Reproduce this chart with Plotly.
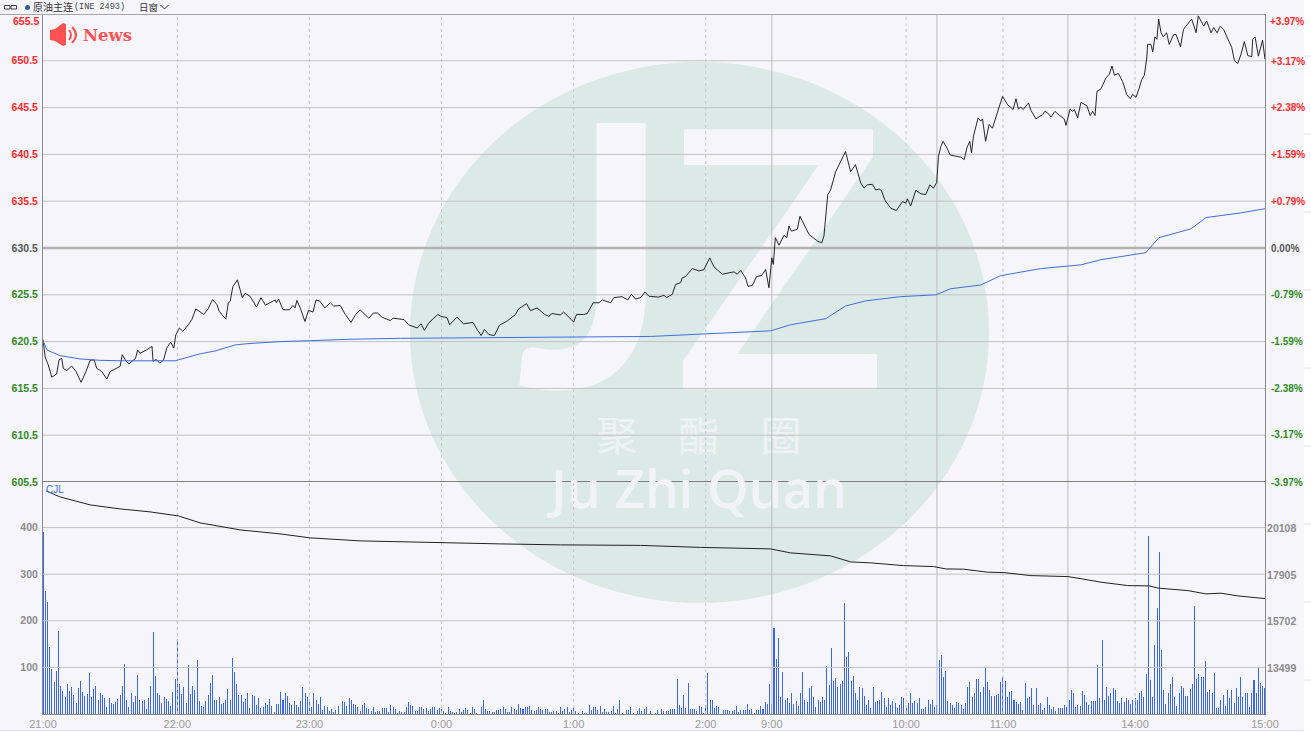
import plotly.graph_objects as go

# ---- data ----
price_ticks = [655.5, 650.5, 645.5, 640.5, 635.5, 630.5, 625.5, 620.5, 615.5, 610.5, 605.5]
pct_ticks = [3.97, 3.17, 2.38, 1.59, 0.79, 0.0, -0.79, -1.59, -2.38, -3.17, -3.97]
vol_ticks = [400, 300, 200, 100]
oi_ticks = [20108, 17905, 15702, 13499]
time_ticks = [0, 61, 121, 181, 241, 301, 331, 392, 436, 496, 555]
time_labels = ["21:00", "22:00", "23:00", "0:00", "1:00", "2:00", "9:00", "10:00", "11:00", "14:00", "15:00"]
dash_times = [61, 121, 181, 241, 301, 392, 436, 496]
solid_times = [331, 406, 465.5]

price_minute = [0,1,2.4,4,6.2,7.3,8.5,9.2,10.8,13,15,17.3,19.5,21.4,23.2,24.4,26.7,29,30.5,32.8,35,36,37.4,39,42,43,44,47,49.5,50,51.4,53,54.7,56.2,58,59.4,60.3,62,63.5,66,67.6,69.4,71.4,73,75,77,79,80,83,84.2,85,86.2,88.3,90.5,91.8,94,97,99,101,104,105.5,106,107,109,112,113.5,114.5,115.3,116.8,119,120.6,122.6,124,125.6,128,130.5,132,135,137.3,139.9,142,144,145.6,148,150,152,154,157.7,159,162,164,166,170,171.7,173.2,175.2,177.5,179.3,180.8,183.5,184.7,188,191,195.3,197,199,200.5,202.5,205,207.3,210.8,214.6,216,219.6,221.4,224.4,227.8,229.7,231.2,235,236.5,238.8,241,242.3,245.6,247.2,249.9,252.5,254,257.8,259.3,263,265.6,267.2,269.1,271.4,273.4,275.2,279.7,282,283.2,285.8,287.3,289.6,290.3,291.8,294.9,297.9,300.2,302.8,304.7,308.5,313.8,315.3,316.9,319.1,320.2,322.2,324.1,326.3,328.2,329.7,331,331.7,332.6,334.3,336.5,337.8,338.8,339.9,342.6,343.8,345.6,347.9,351.7,353.7,354.7,355.3,356.4,357.7,360,364.5,366.8,369,371.4,372.9,374.4,376.7,378.2,379.7,380.8,382.3,385,387.6,390.3,391.9,392.6,394.1,396.4,398.7,400.9,402.8,404.4,405.9,406.7,407.8,408.8,410.5,412,414.6,416.9,418.4,419.6,420.9,421.7,422.6,424.7,425.9,426.7,428.1,429.7,431.2,432.8,435.8,438.1,440.6,441.9,443,444.1,445.2,447.6,448.7,451,454,455,456.2,457.8,459.6,461.5,463.8,464.6,466.5,467.6,468.4,469.9,471.4,474.1,475.6,476.7,477.8,478.7,480.5,482.8,484.3,485.5,486.6,488.4,490.3,492.2,493.8,494.9,496.4,497.9,499,500.2,501.3,501.7,503.2,504,505,505.9,506.7,507.8,508.8,510.3,511.5,513.5,514.6,516.6,518,519.1,521.7,523.7,524.7,527.2,528.5,530.5,531.7,533.2,534.7,536.2,538.1,539.9,541.1,542.6,544.1,545.6,547.2,549,549.4,550.5,552,553.9,555]
price_value = [620.7,618.83,618,616.7,617.04,618.55,618.7,617.65,617.4,617.9,617.3,616.15,617.3,618.5,618.55,617.65,617.3,616.5,617.3,617.55,617.85,619.1,618.55,618.1,618.7,619.6,619.25,619.6,620,618.4,618.6,618.2,618.5,619.8,620.45,619.8,621.2,621.95,621.6,622.3,622.85,624,623.65,623.4,624,625,624.45,623.75,622.9,624.65,624.8,626.35,627.1,625.2,625.65,625.35,624.2,625.2,624.4,624.75,624.95,624.65,625.05,623.9,623.9,624.35,624.1,624.9,624.1,622.65,623.85,623.65,624.95,624.85,624.1,624.65,624.3,624.35,623.4,622.55,623.4,623.9,623.5,623,623.55,623.55,623.1,622.75,623,622.95,622.85,622.3,621.95,622.4,621.7,622.5,623.05,623.4,623.2,623.05,622.3,623.1,622.4,622.55,621.85,621.15,621.8,621.25,621.15,622.25,622.7,623.4,624,624.55,623.8,624.1,623.4,623.2,623.5,623.35,623.65,623.15,622.6,623.4,623.4,623.5,624.65,624.65,624.95,624.65,625.2,625.3,624.95,625.55,625.05,625.2,625.8,625.35,625.25,625.45,625.2,625.55,626.6,626.8,627.3,627.45,628.3,628.05,628.2,629.45,628.5,627.7,627.95,627.7,628.1,627.3,626.4,626.5,627.45,627.55,628.2,626.25,629.45,628.75,631.6,630.8,631.85,631.6,632.85,632.3,632.5,633.9,633,631.95,631.25,631.05,631.8,633.55,636.2,636.7,638.65,640.8,638.65,639.4,637.45,636.9,637.25,637.3,636.7,636.8,636.65,635.65,634.75,634.5,635.45,635.3,635.75,635,636.65,636.3,636.2,637.25,636.9,637.5,640.3,641.35,641.9,641.2,640.45,640.3,640.2,639.95,641.2,641.9,640.65,642.45,644.4,644.05,644.3,641.9,643.7,643.3,644.4,646.7,645.8,645.3,646.45,645.35,645.55,645.3,646,645.2,644.3,644.75,645.1,644.95,644.5,645.1,644.7,644.3,643.6,645.35,645.1,645.3,644.4,646.05,645.7,644.65,645.1,644.65,647.25,647.5,648.7,649.05,649.95,648.95,649.15,648.3,646.9,646.45,646.9,646.6,647.6,648.5,648.95,650.8,652.25,652.25,651.45,653.05,652.8,654.95,653.5,653.05,653.5,652.25,653.3,653.3,652,653.85,654.2,654.95,653.5,655.3,654.2,654.75,653.5,654.05,653.5,654.2,653.85,652.85,651.9,650.55,650.2,651.2,652.55,651.05,650.95,652.8,653.05,651,652.7,650.65]

avg_minute = [0,1.8,7.7,16.8,25.9,35,60,64.5,71.4,78.2,87.3,94,107.7,121.4,139.5,162.3,185,216.8,253.2,276,298.6,321.4,330.5,339.5,355.5,364.5,373.6,389.5,405.5,412.3,425.9,435,453.2,471.4,480.5,500.9,506.8,521.4,528.2,544,555]
avg_value = [620.6,619.6,619,618.65,618.5,618.45,618.45,618.75,619.2,619.5,620.15,620.3,620.5,620.6,620.75,620.85,620.9,620.95,621,621.05,621.3,621.6,621.65,622.3,622.95,624.3,624.85,625.3,625.5,626.15,626.55,627.55,628.3,628.7,629.25,630,631.6,632.55,633.75,634.25,634.7]

oi_minute = [1.4,7.7,21.4,35,48.6,61.4,71.4,89.5,107.7,121.4,144,180.5,207.7,235,271.4,298.6,330.5,339.5,357.7,366.8,375.9,390.9,404.5,410,418.2,429.1,436.4,448.6,465.5,472.7,480.5,492.7,502.3,506.8,520,528.2,535,542.7,555]
oi_value = [21886,21602,21224,21035,20893,20704,20373,20042,19853,19664,19522,19428,19380,19333,19309,19215,19144,18955,18813,18529,18482,18354,18307,18198,18184,18043,18024,17882,17834,17712,17570,17409,17395,17286,17173,17017,17050,16922,16795]

volume = [390,265,240,143,97,68,92,178,60,50,37,64,50,57,41,24,55,70,48,39,43,88,37,54,60,29,46,41,34,16,34,23,21,26,32,41,60,108,31,14,46,25,39,83,30,28,30,10,34,60,175,81,46,40,23,37,32,28,17,48,76,161,64,43,57,24,106,43,61,51,116,28,17,14,28,41,66,83,31,30,36,21,23,30,54,30,121,90,64,41,41,26,32,44,12,41,39,19,34,12,14,24,19,32,17,4,21,21,48,30,44,39,24,19,28,19,14,28,57,46,36,28,14,46,31,21,37,9,17,14,6,10,4,9,17,0,28,26,17,34,30,21,19,14,7,19,23,12,11,7,14,4,6,6,12,12,12,5,19,14,11,3,6,5,5,14,26,19,17,6,6,14,14,11,12,6,11,14,14,9,12,10,
          6,3,14,6,4,3,4,11,4,8,12,8,3,15,11,3,0,15,30,11,6,6,4,4,9,9,11,16,11,4,5,16,11,9,21,13,11,14,15,17,9,6,8,14,11,8,10,10,4,4,6,6,3,14,6,11,14,4,8,14,6,3,0,6,3,3,19,9,15,15,8,17,4,11,4,4,6,17,3,11,30,3,1,9,8,14,3,1,6,12,6,10,14,1,6,0,3,8,0,10,6,6,6,10,10,11,75,19,12,40,12,66,11,10,11,6,17,14,3,19,87,30,30,12,17,16,0,8,8,8,6,6,9,17,4,8,9,8,21,9,11,3,8,8,17,11,26,21,64,21,184,117,164,36,90,30,34,24,46,21,28,17,46,91,30,26,56,61,36,14,30,26,37,31,103,62,142,71,77,58,64,71,239,122,134,71,81,44,30,59,56,39,19,31,
          12,57,26,28,30,48,35,16,35,19,28,23,12,19,37,34,12,24,44,23,28,23,35,10,10,14,31,21,31,16,19,116,126,79,92,28,23,19,12,26,24,19,10,23,59,68,37,46,75,76,48,59,98,68,51,39,39,41,43,68,79,70,37,48,49,30,25,21,26,9,66,34,37,55,19,55,19,23,9,12,37,19,10,14,7,12,12,12,19,16,31,51,44,16,19,17,49,41,26,19,28,28,28,106,34,159,30,57,39,44,55,51,28,23,35,26,34,30,21,31,34,30,46,50,37,86,382,73,36,148,228,348,137,51,21,44,64,79,37,17,46,61,55,39,39,53,64,231,76,86,79,80,114,48,51,44,89,12,12,31,41,17,51,35,51,23,55,37,79,37,46,46,16,44,73,46,101,66,61,55,166]

# ---- styling ----
BG = "#F5F5FB"; GRID = "#C2C2C6"; RED = "#FF2A2A"; GREEN = "#2E8B22"; DARK = "#555555"; GREYTXT = "#8C8C8C"
L, R, T, B, W, H = 43, 46, 14, 18, 1311, 732
PW, PH = W - L - R, H - T - B
SPLIT = 232 / PH
VOL_RANGE = [0, 497.8]
OI_RANGE = [11339, 22306]
P_RANGE = [605.5, 655.5]
X_RANGE = [0, 555]

def px(x): return (x - L) / PW
def py(y): return (H - B - y) / PH
def dx(x): return (x - L) / PW * X_RANGE[1]
def dy(y): return P_RANGE[1] - (y - T) / (482 - T) * (P_RANGE[1] - P_RANGE[0])
def dy2(y): return (H - B - y) / 232 * VOL_RANGE[1]

def col(v):
    return RED if v > 630.5 else (DARK if v == 630.5 else GREEN)

def span(t, c):
    return f'<span style="color:{c}">{t}</span>'

def pct_text(v):
    return "0.00%" if v == 0 else f"{v:+.2f}%"

def lines_h(vals):
    xs, ys = [], []
    for v in vals:
        xs += [X_RANGE[0], X_RANGE[1], None]; ys += [v, v, None]
    return xs, ys

def lines_v(vals, rng):
    xs, ys = [], []
    for v in vals:
        xs += [v, v, None]; ys += [rng[0], rng[1], None]
    return xs, ys

fig = go.Figure()

# watermark text sits under grid and lines
def wm(x, yval, text, size, family, color, axis="y", weight="normal"):
    fig.add_trace(go.Scatter(x=[dx(x)], y=[yval], mode="text", text=[text], textposition="middle center",
                             textfont=dict(size=size, family=family, color=color, weight=weight),
                             cliponaxis=False, hoverinfo="skip", showlegend=False, yaxis=axis, xaxis="x"))

wm(594, dy(296), "J", 366, "Lato", BG, "y", "bold")
wm(779, dy(298), "Z", 366, "Roboto", BG, "y", 500)
wm(699, dy(441), "聚　酯　圈", 41, "Noto Sans CJK SC", "#EFF2F5")
wm(699, dy2(495), "Ju Zhi Quan", 53, "Open Sans", "#F1F3F6", "y2", 600)

def grid(xs, ys, axis, color=GRID, width=1, dash="solid"):
    fig.add_trace(go.Scatter(x=xs, y=ys, mode="lines", yaxis=axis, line=dict(color=color, width=width, dash=dash),
                             hoverinfo="skip", showlegend=False))

grid(*lines_h([v for v in price_ticks if v not in (630.5, 605.5, 655.5)]), "y")
grid(*lines_v(dash_times, P_RANGE), "y", "#C6C6C6", 1, "3px,3px")
grid(*lines_v(solid_times, P_RANGE), "y", "#BDBDBD", 1)
grid(*lines_h([630.5]), "y", "#B2B2B2", 2.5)
grid(*lines_h([605.5]), "y", "#7F7F7F", 2)

grid(*lines_h(vol_ticks), "y2")
grid(*lines_v(dash_times, VOL_RANGE), "y2", "#C6C6C6", 1, "3px,3px")
grid(*lines_v(solid_times, VOL_RANGE), "y2", "#BDBDBD", 1)

fig.add_trace(go.Scatter(x=price_minute, y=price_value, mode="lines", yaxis="y", name="price",
                         line=dict(color="#111111", width=0.9), showlegend=False))
fig.add_trace(go.Scatter(x=avg_minute, y=avg_value, mode="lines", yaxis="y", name="average",
                         line=dict(color="#3F6FE0", width=1), showlegend=False))
fig.add_trace(go.Bar(x=list(range(len(volume))), y=volume, yaxis="y2", name="volume", width=0.46,
                     marker=dict(color="rgba(56,100,232,0.99)", line=dict(width=0)), showlegend=False))
fig.add_trace(go.Scatter(x=oi_minute, y=oi_value, mode="lines", yaxis="y3", name="open interest",
                         line=dict(color="#222222", width=1), showlegend=False))
# keeps the percent axis alive
fig.add_trace(go.Scatter(x=[None], y=[None], yaxis="y4", mode="lines", hoverinfo="skip", showlegend=False))

tick_font = dict(family="Liberation Sans", size=10.5, weight="bold")
pct_font = dict(family="Liberation Sans", size=10, weight="bold")
axis_line = dict(showline=True, linecolor="#8A8A8A", linewidth=1, showgrid=False, zeroline=False, ticks="", fixedrange=True)

# ---- shapes ----
S = []
S.append(dict(type="rect", xref="paper", yref="paper", x0=px(0), x1=px(1304), y0=py(730), y1=py(0),
              fillcolor=BG, line=dict(width=0), layer="below"))
S.append(dict(type="circle", xref="paper", yref="paper", x0=px(410), x1=px(989), y0=py(603), y1=py(62),
              fillcolor="#DBEAE6", line=dict(width=0), layer="below"))
S.append(dict(type="line", xref="paper", yref="paper", x0=px(0), x1=px(1265), y0=py(14.5), y1=py(14.5),
              line=dict(color="#A6A6AA", width=1), layer="above"))
S.append(dict(type="line", xref="paper", yref="paper", x0=px(0), x1=px(1304), y0=py(730.5), y1=py(730.5),
              line=dict(color="#E4E4EA", width=1), layer="below"))
for y in range(56, 700, 78):
    S.append(dict(type="line", xref="paper", yref="paper", x0=px(1304), x1=px(1311), y0=py(y), y1=py(y),
                  line=dict(color="#E2E2E6", width=1), layer="below"))

def path(points, close=True):
    p = "M" + " L".join(f"{px(a)},{py(b)}" for a, b in points)
    return p + (" Z" if close else "")

RN = "#FF5252"
S.append(dict(type="path", xref="paper", yref="paper", fillcolor=RN, line=dict(width=0),
              path=path([(50, 30), (55, 29), (63, 23), (66, 24), (66, 45), (63, 46), (55, 41), (50, 40)])))
S.append(dict(type="path", xref="paper", yref="paper", line=dict(color=RN, width=2),
              path=f"M{px(69)},{py(30)} Q{px(73)},{py(35)} {px(69)},{py(40)}"))
S.append(dict(type="path", xref="paper", yref="paper", line=dict(color=RN, width=2),
              path=f"M{px(72)},{py(27)} Q{px(80)},{py(35)} {px(72)},{py(43)}"))
# header glyphs
S.append(dict(type="rect", xref="paper", yref="paper", x0=px(4.5), x1=px(10), y0=py(9), y1=py(5.5), line=dict(color="#444444", width=1)))
S.append(dict(type="rect", xref="paper", yref="paper", x0=px(11), x1=px(16.5), y0=py(9), y1=py(5.5), line=dict(color="#444444", width=1)))
S.append(dict(type="circle", xref="paper", yref="paper", x0=px(25), x1=px(30), y0=py(10), y1=py(5), fillcolor="#2A5CAA", line=dict(width=0)))
S.append(dict(type="path", xref="paper", yref="paper", line=dict(color="#333333", width=1),
              path=path([(160.5, 5), (164.5, 9), (168.5, 5)], close=False)))

# ---- annotations ----
def note(x, y, text, size, color, family="Liberation Sans", anchor="left", weight="normal"):
    return dict(xref="paper", yref="paper", x=px(x), y=py(y), text=text, showarrow=False, xanchor=anchor, yanchor="middle",
                font=dict(size=size, color=color, family=family, weight=weight), borderpad=0, borderwidth=0)

A = [
    note(33, 7, "原油主连", 10, "#333333", "Noto Sans CJK SC"),
    note(74, 7, "(INE 2493)", 8.5, "#444444", "Liberation Mono"),
    note(139, 7, "日窗", 9.5, "#333333", "Noto Sans CJK SC"),
    note(83, 35, "News", 16.5, RN, "DejaVu Serif", weight="bold"),
    note(46, 489, "CJL", 10, "#3F6FE0"),
    note(39, 21, "655.5", 10.5, RED, anchor="right", weight="bold"),
    note(1270, 21, "+3.97%", 10, RED, weight="bold"),
]

fig.update_layout(
    width=W, height=H, autosize=False, margin=dict(l=L, r=R, t=T, b=B, pad=0, autoexpand=False),
    paper_bgcolor="white", plot_bgcolor="rgba(0,0,0,0)", showlegend=False, barmode="overlay", bargap=0,
    shapes=S, annotations=A, hovermode=False,
    xaxis=dict(range=X_RANGE, anchor="y2", domain=[0, 1], tickmode="array", tickvals=time_ticks, ticktext=time_labels,
               tickfont=dict(family="Liberation Sans", size=11, color="#9A9A94"), showline=True, linecolor="#8A8A8A",
               showgrid=False, zeroline=False, ticks="", ticklabelstandoff=0, tickangle=0, fixedrange=True),
    yaxis=dict(domain=[SPLIT, 1], range=P_RANGE, tickmode="array",
               tickvals=price_ticks[1:], ticktext=[span(f"{v:.1f}", col(v)) for v in price_ticks[1:]],
               tickfont=tick_font, ticklabelstandoff=2, **axis_line),
    yaxis2=dict(domain=[0, SPLIT], range=VOL_RANGE, tickmode="array", tickvals=vol_ticks, ticktext=[str(v) for v in vol_ticks],
                tickfont=dict(color=GREYTXT, **tick_font), ticklabelstandoff=2, **axis_line),
    yaxis3=dict(overlaying="y2", side="right", anchor="x", range=OI_RANGE, tickmode="array", tickvals=oi_ticks,
                ticktext=[str(v) for v in oi_ticks], tickfont=dict(color=GREYTXT, **tick_font), ticklabelstandoff=-1, **axis_line),
    yaxis4=dict(overlaying="y", side="right", anchor="x", range=[pct_ticks[-1], pct_ticks[0]], tickmode="array",
                tickvals=pct_ticks[1:], ticktext=[span(pct_text(v), col(630.5 + v)) for v in pct_ticks[1:]],
                tickfont=pct_font, ticklabelstandoff=3, **axis_line),
)

fig.write_html("out.html", config={"displayModeBar": False},
               post_script="document.body.style.margin='0';document.body.style.background='white';")
